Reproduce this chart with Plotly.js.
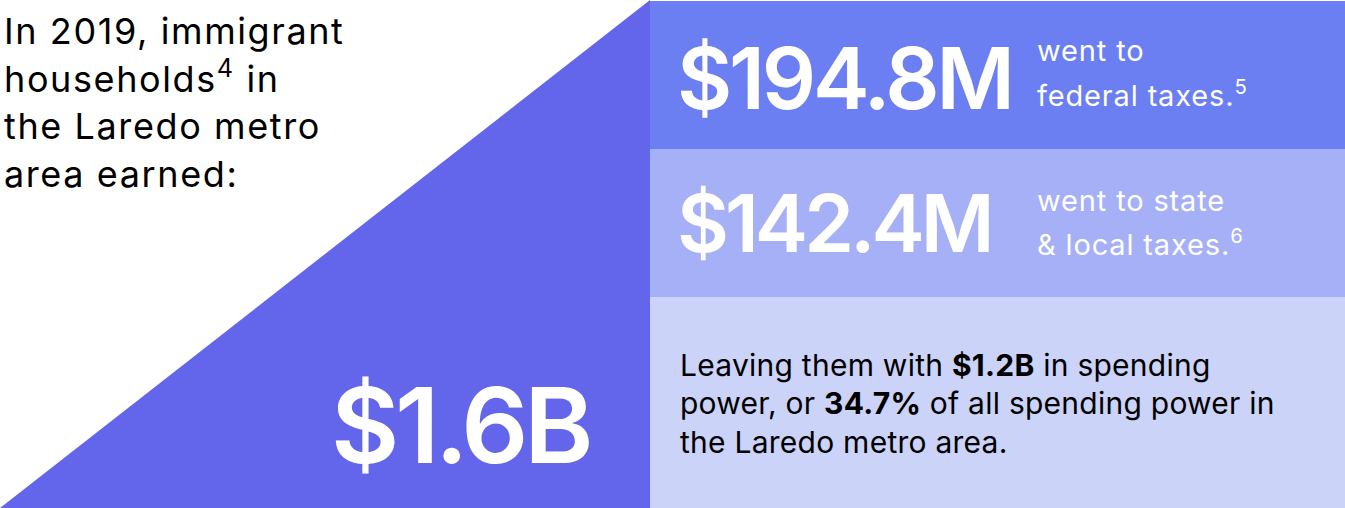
<!DOCTYPE html>
<html>
<head>
<meta charset="utf-8">
<script src="https://cdn.plot.ly/plotly-3.0.1.min.js"></script>
<style>html,body{margin:0;padding:0;background:#fff;}#chart{width:1345px;height:508px;}</style>
</head>
<body>
<div id="chart"></div>
<script>
// ---- data ----
var year = 2019;
var metro = "Laredo";
var earnedLabel = "$1.6B";
var taxLabels = ["$194.8M", "$142.4M"];
var taxLines = [["went to", "federal taxes.<sup>5</sup>"], ["went to state", "&amp; local taxes.<sup>6</sup>"]];
var spendingPower = "$1.2B";
var spendingShare = "34.7%";
var introLines = ["In " + year + ", immigrant", "households<sup>4</sup> in", "the " + metro + " metro", "area earned:"];
var paraLines = [
  "Leaving them with <b>" + spendingPower + "</b> in spending",
  "power, or <b>" + spendingShare + "</b> of all spending power in",
  "the " + metro + " metro area."
];

// ---- layout constants ----
var W = 1345, H = 508, SPLIT = 650;
var bandEdges = [1, 149, 297, 508];
var bandColors = ["#6B7EF2", "#A6B0F6", "#CBD3F8"];
var triColor = "#6366EB";
var FONT = "Inter, 'Liberation Sans', Arial, sans-serif";

var traces = [];
traces.push({
  type: "scatter", mode: "none", fill: "toself", fillcolor: triColor,
  x: [0, SPLIT, SPLIT, 0], y: [H, 0, H, H], hoverinfo: "skip", showlegend: false
});
for (var i = 0; i < 3; i++) {
  traces.push({
    type: "scatter", mode: "none", fill: "toself", fillcolor: bandColors[i],
    x: [SPLIT, W, W, SPLIT, SPLIT], y: [bandEdges[i], bandEdges[i], bandEdges[i+1], bandEdges[i+1], bandEdges[i]],
    hoverinfo: "skip", showlegend: false
  });
}

// place a single line of text by its baseline
function line(x, baseline, text, size, color, spacing, weight) {
  var t = spacing ? '<span style="letter-spacing:' + spacing + 'px">' + text + '</span>' : text;
  return {x: x, y: baseline + 0.25 * size, xref: "x", yref: "y", text: t, showarrow: false,
    xanchor: "left", yanchor: "bottom", align: "left", borderpad: 0,
    font: {family: FONT, size: size, color: color, weight: weight || 400}};
}

var annotations = [];
var introBase = [45.5, 93, 140.5, 188];
introLines.forEach(function (t, k) { annotations.push(line(3, introBase[k], t, 36, "#000", 1.6)); });

annotations.push(line(676, 110, taxLabels[0], 85, "#fff", -3.2, 600));
annotations.push(line(676, 252, taxLabels[1], 80, "#fff", -4, 600));
annotations.push(line(330, 463, earnedLabel, 105, "#fff", -4.3, 600));

var taxBase = [[62, 107], [212, 256]];
taxLines.forEach(function (pair, k) {
  pair.forEach(function (t, j) { annotations.push(line(1036, taxBase[k][j], t, 29, "#fff", 0.85)); });
});

var paraBase = [376, 414.5, 453];
paraLines.forEach(function (t, k) { annotations.push(line(679, paraBase[k], t, 30, "#000", 0.25)); });

var layout = {
  width: W, height: H,
  margin: {l: 0, r: 0, t: 0, b: 0},
  paper_bgcolor: "#fff", plot_bgcolor: "#fff",
  xaxis: {range: [0, W], visible: false, fixedrange: true},
  yaxis: {range: [H, 0], visible: false, fixedrange: true},
  annotations: annotations,
  showlegend: false
};
Plotly.newPlot("chart", traces, layout, {displayModeBar: false, staticPlot: true});
</script>
</body>
</html>
